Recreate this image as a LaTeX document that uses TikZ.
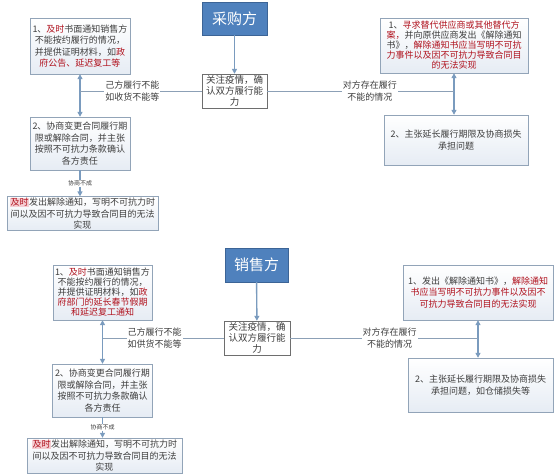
\documentclass[tikz,border=0pt]{standalone}
\usepackage{fontspec}
\usepackage{xcolor}
\usepackage{tikz}
\usetikzlibrary{arrows.meta,positioning,calc}
\newfontfamily\cjk{Noto Sans CJK SC}
\definecolor{clrR}{RGB}{176,18,30}
\definecolor{clrT}{RGB}{62,62,62}
\definecolor{clrBd}{RGB}{146,164,184}
\definecolor{clrFl}{RGB}{230,236,244}
\definecolor{clrAr}{RGB}{122,155,190}
\definecolor{clrLn}{RGB}{140,160,182}
\definecolor{clrHd}{RGB}{79,129,189}
\definecolor{clrHdB}{RGB}{60,100,150}
\definecolor{bgPk}{RGB}{245,205,210}
\newcommand{\rd}[1]{\textcolor{clrR}{#1}}
\newcommand{\hlrd}[1]{{\setlength{\fboxsep}{0.6pt}\colorbox{bgPk}{\rd{#1}}}}
\tikzset{
  party/.style={rectangle,draw=clrHdB,fill=clrHd,text=white,
    font=\cjk\fontsize{15}{18}\selectfont,inner sep=0pt},
  stepbox/.style={rectangle,draw=clrBd,top color=white,bottom color=clrFl,text=clrT,
    font=\cjk\fontsize{9}{11.5}\selectfont,align=center,inner sep=1pt},
  tightbox/.style={stepbox,font=\cjk\fontsize{9}{10}\selectfont},
  focus/.style={stepbox,draw=clrT!75,top color=white,bottom color=white,
    font=\cjk\fontsize{9.5}{11}\selectfont},
  arrow/.style={-{Triangle[length=5pt,width=5pt]},line width=1.4pt,color=clrAr},
  twoway/.style={{Triangle[length=5pt,width=5pt]}-{Triangle[length=5pt,width=5pt]},
    line width=1.4pt,color=clrAr},
  link/.style={line width=1pt,color=clrLn},
  edge/.style={font=\cjk\fontsize{9}{11.5}\selectfont,text=clrT,fill=white,
    align=center,inner sep=1pt},
  minor/.style={font=\cjk\fontsize{6}{7}\selectfont,text=clrT,fill=white,inner sep=0.5pt}
}
\begin{document}
\begin{tikzpicture}[x=1pt,y=-1pt]
  \useasboundingbox (0,0) rectangle (554,475);
  \node[party,minimum width=65pt,minimum height=33pt] (partyP) at (234.5,18.5) {采购方};
  \node[focus,minimum width=65pt,minimum height=34pt] (focusP) at (234.5,91)
    {关注疫情，确\\认双方履行能\\力};
  \node[stepbox,minimum width=100pt,minimum height=56pt] (ownP1) at (80,46)
    {1、\rd{及时}书面通知销售方\\不能按约履行的情况，\\并提供证明材料，如\rd{政}\\\rd{府公告、延迟复工等}};
  \node[stepbox,minimum width=100pt,minimum height=53pt] (ownP2) at (80,143.5)
    {2、协商变更合同履行期\\限或解除合同，并主张\\按照不可抗力条款确认\\各方责任};
  \node[stepbox,minimum width=151pt,minimum height=33pt] (ownP3) at (82.5,213.5)
    {\hlrd{及时}发出解除通知，写明不可抗力时\\间以及因不可抗力导致合同目的无法\\实现};
  \node[tightbox,minimum width=148pt,minimum height=55pt] (otherP1) at (454,45.5)
    {1、\rd{寻求替代供应商或其他替代方}\\\rd{案，}并向原供应商发出《解除通知\\书》，\rd{解除通知书应当写明不可抗}\\\rd{力事件以及因不可抗力导致合同目}\\\rd{的无法实现}};
  \node[stepbox,minimum width=144pt,minimum height=50pt] (otherP2) at (456,140)
    {2、主张延长履行期限及协商损失\\承担问题};

  \draw[arrow] (partyP) -- (focusP);
  \draw[twoway] (ownP1.south) -- (ownP2.north);
  \draw[arrow] (ownP2.south) -- (ownP2.south |- ownP3.north)
    node[minor,midway]{协商不成};
  \draw[twoway] (otherP1.south) -- (otherP1.south |- otherP2.north);
  \draw[link] (focusP.west) -- (focusP.west -| ownP1.south)
    node[edge,pos=0.57]{己方履行不能\\如收货不能等};
  \draw[link] (focusP.east) -- (focusP.east -| otherP1.south)
    node[edge,pos=0.55]{对方存在履行\\不能的情况};

  \node[party,minimum width=63pt,minimum height=34pt] (partyS) at (256.5,265) {销售方};
  \node[focus,minimum width=66pt,minimum height=34pt] (focusS) at (257,338)
    {关注疫情，确\\认双方履行能\\力};
  \node[tightbox,minimum width=99pt,minimum height=55pt] (ownS1) at (102.5,292.5)
    {1、\rd{及时}书面通知销售方\\不能按约履行的情况，\\并提供证明材料，如\rd{政}\\\rd{府部门的延长春节假期}\\\rd{和延迟复工通知}};
  \node[stepbox,minimum width=100pt,minimum height=53pt] (ownS2) at (102.5,390.5)
    {2、协商变更合同履行期\\限或解除合同，并主张\\按照不可抗力条款确认\\各方责任};
  \node[stepbox,minimum width=155pt,minimum height=35pt] (ownS3) at (104.5,455.5)
    {\hlrd{及时}发出解除通知，写明不可抗力时\\间以及因不可抗力导致合同目的无法\\实现};
  \node[stepbox,minimum width=150pt,minimum height=55pt] (otherS1) at (478,292.5)
    {1、发出《解除通知书》，\rd{解除通知}\\\rd{书应当写明不可抗力事件以及因不}\\\rd{可抗力导致合同目的无法实现}};
  \node[stepbox,minimum width=145pt,minimum height=54pt] (otherS2) at (480.5,385)
    {2、主张延长履行期限及协商损失\\承担问题，如仓储损失等};

  \draw[arrow] (partyS) -- (focusS);
  \draw[twoway] (ownS1.south) -- (ownS1.south |- ownS2.north);
  \draw[arrow] (ownS2.south) -- (ownS2.south |- ownS3.north)
    node[minor,midway]{协商不成};
  \draw[twoway] (otherS1.south) -- (otherS1.south |- otherS2.north);
  \draw[link] (focusS.west) -- (focusS.west -| ownS1.south)
    node[edge,pos=0.57]{己方履行不能\\如供货不能等};
  \draw[link] (focusS.east) -- (focusS.east -| otherS1.south)
    node[edge,pos=0.53]{对方存在履行\\不能的情况};
\end{tikzpicture}
\end{document}
